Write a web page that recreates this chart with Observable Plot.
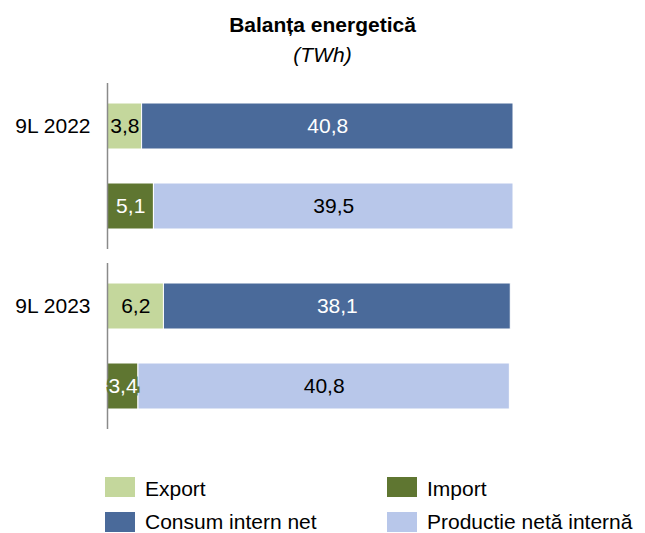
<!DOCTYPE html>
<html>
<head>
<meta charset="utf-8">
<script src="https://cdn.jsdelivr.net/npm/d3@7"></script>
<script src="https://cdn.jsdelivr.net/npm/@observablehq/plot@0.6"></script>
<style>
  body { margin: 0; background: #fff; font-family: "Liberation Sans", Arial, sans-serif; }
  #wrap { position: relative; width: 645px; height: 533px; overflow: hidden; }
  .t { position: absolute; left: 0; width: 645px; text-align: center; font-size: 21px; line-height: 20px; color: #000; }
  #chart { position: absolute; left: 0; top: 0; }
  .li { position: absolute; display: flex; align-items: center; font-size: 21px; line-height: 20px; color: #000; white-space: nowrap; }
  .sw { width: 30px; height: 20px; margin-right: 10px; }
</style>
</head>
<body>
<div id="wrap">
  <div class="t" style="top:15px;font-weight:bold;">Balanța energetică</div>
  <div class="t" style="top:45px;font-style:italic;">(TWh)</div>
  <div id="chart"></div>
  <div id="legend"></div>
</div>
<script>
// ---- data ----
const groups = ["9L 2022", "9L 2023"];
const exportVals = [3.8, 6.2];
const consumVals = [40.8, 38.1];
const importVals = [5.1, 3.4];
const productieVals = [39.5, 40.8];

const seriesNames = ["Export", "Import", "Consum intern net", "Productie netă internă"];
const seriesColors = ["#C4D79C", "#5F7631", "#4A6A9A", "#B8C7EA"];
const darkSeries = ["Import", "Consum intern net"];

// ---- table ----
const rows = [];
groups.forEach((g, i) => {
  rows.push({group: g, row: "sus", series: "Export", value: exportVals[i]});
  rows.push({group: g, row: "sus", series: "Consum intern net", value: consumVals[i]});
  rows.push({group: g, row: "jos", series: "Import", value: importVals[i]});
  rows.push({group: g, row: "jos", series: "Productie netă internă", value: productieVals[i]});
});

const fmt = v => v.toFixed(1).replace(".", ",");
const colorOf = s => seriesColors[seriesNames.indexOf(s)];
const maxTotal = d3.max(groups.map((g, i) => Math.max(exportVals[i] + consumVals[i], importVals[i] + productieVals[i])));

const stackOpts = {x: "value", y: "row", fy: "group", z: "series"};

const chart = Plot.plot({
  width: 645,
  height: 440,
  marginTop: 83,
  marginBottom: 10.5,
  marginLeft: 107,
  marginRight: 132,
  style: {fontFamily: "'Liberation Sans', Arial, sans-serif", background: "transparent"},
  x: {domain: [0, maxTotal], axis: null},
  y: {domain: ["sus", "jos"], axis: null, paddingInner: 0.426, paddingOuter: 0.238},
  fy: {domain: groups, axis: null, paddingInner: 0.0803, paddingOuter: 0},
  color: {domain: seriesNames, range: seriesColors},
  marks: [
    Plot.barX(rows, Plot.stackX({...stackOpts, fill: "series", stroke: "white", strokeWidth: 1})),
    Plot.ruleX([0], {stroke: "#8a8a8a", strokeWidth: 1.5}),
    Plot.text(rows, Plot.stackX({...stackOpts,
      text: d => d.series === "Import" ? fmt(d.value) : "",
      fill: "white", stroke: colorOf("Import"), strokeWidth: 5, strokeLinejoin: "miter", paintOrder: "stroke",
      fontSize: 21})),
    Plot.text(rows, Plot.stackX({...stackOpts,
      text: d => d.series === "Consum intern net" ? fmt(d.value) : "",
      fill: "white", fontSize: 21})),
    Plot.text(rows, Plot.stackX({...stackOpts,
      text: d => darkSeries.includes(d.series) ? "" : fmt(d.value),
      fill: "black", fontSize: 21})),
    Plot.text(groups, {fy: d => d, y: () => "sus", x: () => 0, text: d => d,
      textAnchor: "end", dx: -17, fill: "black", fontSize: 21})
  ]
});
document.getElementById("chart").appendChild(chart);

// ---- legend ----
const legend = document.getElementById("legend");
const legendOrder = ["Export", "Import", "Consum intern net", "Productie netă internă"];
legendOrder.forEach((name, i) => {
  const col = i % 2, row = Math.floor(i / 2);
  const item = document.createElement("div");
  item.className = "li";
  item.style.left = (105 + col * 282) + "px";
  item.style.top = (477 + row * 35) + "px";
  const sw = document.createElement("div");
  sw.className = "sw";
  sw.style.background = colorOf(name);
  const lab = document.createElement("span");
  lab.textContent = name;
  lab.style.position = "relative";
  lab.style.top = row === 0 ? "2px" : "0px";
  item.appendChild(sw);
  item.appendChild(lab);
  legend.appendChild(item);
});
</script>
</body>
</html>
